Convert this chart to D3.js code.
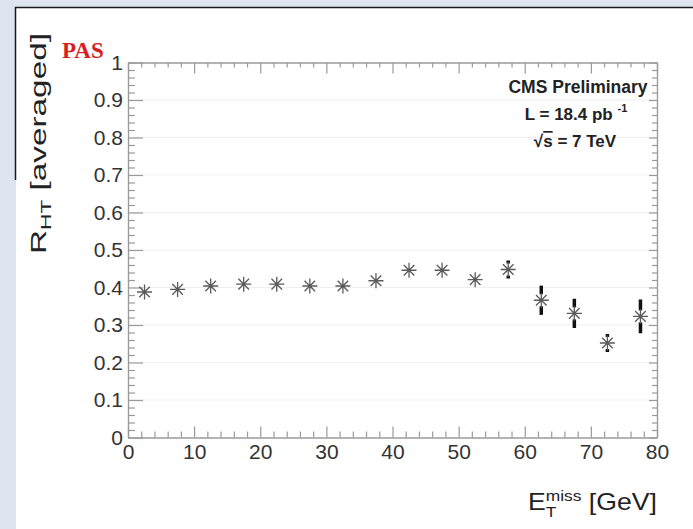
<!DOCTYPE html>
<html>
<head>
<meta charset="utf-8">
<script src="https://cdn.jsdelivr.net/npm/d3@7"></script>
<style>
  html, body { margin: 0; padding: 0; background: #dfe5f0; }
  svg { display: block; }
  .axis path, .axis line { stroke: #9a9a9a; stroke-width: 1.2; }
  .axis text { font-family: "Liberation Sans", Arial, sans-serif; font-size: 21px; fill: #333; }
</style>
</head>
<body>
<div id="chart"></div>
<script>
onload = function () {

  // bin centres of E_T^miss [GeV]
  var binCenters = [2.5, 7.5, 12.5, 17.5, 22.5, 27.5, 32.5, 37.5, 42.5, 47.5, 52.5, 57.5, 62.5, 67.5, 72.5, 77.5];
  // R_HT averaged per bin
  var rValues = [0.388, 0.395, 0.404, 0.409, 0.409, 0.404, 0.404, 0.418, 0.446, 0.446, 0.421, 0.448, 0.366, 0.331, 0.252, 0.323];
  var rErrors = [0.004, 0.004, 0.005, 0.005, 0.006, 0.006, 0.007, 0.008, 0.010, 0.012, 0.014, 0.024, 0.039, 0.039, 0.024, 0.045];

  var xTicks = [0, 10, 20, 30, 40, 50, 60, 70, 80];
  var yTicks = [0, 0.1, 0.2, 0.3, 0.4, 0.5, 0.6, 0.7, 0.8, 0.9, 1];
  var yTickLabels = ["0", "0.1", "0.2", "0.3", "0.4", "0.5", "0.6", "0.7", "0.8", "0.9", "1"];

  var W = 693, H = 529;
  var margin = {top: 62.5, right: 36, bottom: 91.5, left: 128};

  var svg = d3.select("#chart").append("svg")
    .attr("width", W)
    .attr("height", H);

  // white slide panel
  svg.append("rect")
    .attr("x", 16).attr("y", 8)
    .attr("width", W - 16).attr("height", H - 8)
    .attr("fill", "#fff");
  svg.append("path")
    .attr("d", "M15.5,180V7.5H" + W)
    .attr("fill", "none")
    .attr("stroke", "#1a1a1a")
    .attr("stroke-width", 1.5);

  var x = d3.scaleLinear()
    .domain([0, 80])
    .range([margin.left, W - margin.right]);

  var y = d3.scaleLinear()
    .domain([0, 1])
    .range([H - margin.bottom, margin.top]);

  var minorX = d3.range(0, 81, 2).filter(function (d) { return d % 10 != 0; });
  var minorY = d3.range(0, 51).map(function (i) { return i / 50; })
    .filter(function (d, i) { return i % 5 != 0; });

  // faint horizontal grid
  svg.append("g")
    .selectAll("line")
    .data(yTicks.slice(1, -1))
    .enter().append("line")
    .attr("x1", x(0)).attr("x2", x(80))
    .attr("y1", function (d) { return y(d); })
    .attr("y2", function (d) { return y(d); })
    .attr("stroke", "#efefef")
    .attr("stroke-width", 1);

  // axes (ticks pointing inwards, like ROOT)
  svg.append("g")
    .attr("class", "x axis")
    .attr("transform", "translate(0," + y(0) + ")")
    .call(d3.axisBottom(x).tickValues(xTicks).tickSize(-11).tickSizeOuter(0).tickPadding(7));
  svg.append("g")
    .attr("class", "x axis minor")
    .attr("transform", "translate(0," + y(0) + ")")
    .call(d3.axisBottom(x).tickValues(minorX).tickSize(-6).tickSizeOuter(0).tickFormat(""));

  svg.append("g")
    .attr("class", "x axis")
    .attr("transform", "translate(0," + y(1) + ")")
    .call(d3.axisTop(x).tickValues(xTicks).tickSize(-11).tickSizeOuter(0).tickFormat(""));
  svg.append("g")
    .attr("class", "x axis minor")
    .attr("transform", "translate(0," + y(1) + ")")
    .call(d3.axisTop(x).tickValues(minorX).tickSize(-5).tickSizeOuter(0).tickFormat(""));

  svg.append("g")
    .attr("class", "y axis")
    .attr("transform", "translate(" + x(0) + ",0)")
    .call(d3.axisLeft(y).tickValues(yTicks).tickSize(-15).tickSizeOuter(0).tickPadding(5)
      .tickFormat(function (d, i) { return yTickLabels[i]; }));
  svg.append("g")
    .attr("class", "y axis minor")
    .attr("transform", "translate(" + x(0) + ",0)")
    .call(d3.axisLeft(y).tickValues(minorY).tickSize(-7).tickSizeOuter(0).tickFormat(""));

  svg.append("g")
    .attr("class", "y axis")
    .attr("transform", "translate(" + x(80) + ",0)")
    .call(d3.axisRight(y).tickValues(yTicks).tickSize(-8).tickSizeOuter(0).tickFormat(""));
  svg.append("g")
    .attr("class", "y axis minor")
    .attr("transform", "translate(" + x(80) + ",0)")
    .call(d3.axisRight(y).tickValues(minorY).tickSize(-5).tickSizeOuter(0).tickFormat(""));

  var points = binCenters.map(function (c, i) {
    return {x: c, v: rValues[i], e: rErrors[i]};
  });

  // error bars, hidden behind the marker in the middle
  var gap = 6;
  var err = svg.append("g").attr("class", "errors");
  points.forEach(function (p) {
    var cy = y(p.v), top = y(p.v + p.e), bot = y(p.v - p.e);
    if (cy - top > gap) {
      err.append("line")
        .attr("x1", x(p.x)).attr("x2", x(p.x))
        .attr("y1", top).attr("y2", cy - gap);
      err.append("line")
        .attr("x1", x(p.x)).attr("x2", x(p.x))
        .attr("y1", cy + gap).attr("y2", bot);
    }
  });
  err.selectAll("line")
    .attr("stroke", "#111")
    .attr("stroke-width", 3.5);

  // star markers
  var r = 7.5, rd = 5.3;
  var star = "M" + (-r) + ",0H" + r + "M0," + (-r) + "V" + r +
    "M" + (-rd) + "," + (-rd) + "L" + rd + "," + rd +
    "M" + (-rd) + "," + rd + "L" + rd + "," + (-rd);

  svg.append("g")
    .selectAll("path")
    .data(points)
    .enter().append("path")
    .attr("d", star)
    .attr("transform", function (d) { return "translate(" + x(d.x) + "," + y(d.v) + ")"; })
    .attr("fill", "none")
    .attr("stroke", "#5a5a5a")
    .attr("stroke-width", 1.3);

  // axis titles
  var ytitle = svg.append("text")
    .attr("font-family", "Liberation Sans, Arial, sans-serif")
    .attr("font-size", 22)
    .attr("fill", "#222");
  ytitle.append("tspan").text("R");
  ytitle.append("tspan").attr("font-size", 15).attr("dy", 5).text("HT");
  ytitle.append("tspan").attr("dy", -5).text(" [averaged]");
  var yl = ytitle.node().getComputedTextLength();
  ytitle.attr("transform", "translate(46,254) rotate(-90) scale(" + (221 / yl) + ",1)");

  var xtitle = svg.append("text")
    .attr("font-family", "Liberation Sans, Arial, sans-serif")
    .attr("font-size", 23)
    .attr("fill", "#222");
  xtitle.append("tspan").text("E");
  xtitle.append("tspan").attr("font-size", 15).attr("dy", -9).text("miss");
  xtitle.append("tspan").text(" [GeV]").attr("dy", 9);
  var xl = xtitle.node().getComputedTextLength();
  var sx = 129 / xl;
  xtitle.attr("transform", "translate(" + (x(80) - 129) + ",510) scale(" + sx + ",1)");
  // subscript T under the superscript
  var eW = 23 * 0.667;
  svg.append("text")
    .attr("font-family", "Liberation Sans, Arial, sans-serif")
    .attr("font-size", 15)
    .attr("fill", "#222")
    .attr("transform", "translate(" + (x(80) - 129 + eW * sx) + ",517) scale(" + sx + ",1)")
    .text("T");

  // PAS stamp
  svg.append("text")
    .attr("x", 62).attr("y", 58)
    .attr("font-family", "Liberation Serif, Times New Roman, serif")
    .attr("font-weight", "bold")
    .attr("font-size", 23)
    .attr("fill", "#d81e1e")
    .text("PAS");

  // CMS info box
  var info = svg.append("g")
    .attr("font-family", "Liberation Sans, Arial, sans-serif")
    .attr("font-weight", "bold")
    .attr("font-size", 17)
    .attr("fill", "#222")
    .attr("text-anchor", "middle");
  info.append("text").attr("x", 578).attr("y", 93).attr("font-size", 17.5).text("CMS Preliminary");
  var lumi = info.append("text").attr("x", 576).attr("y", 120);
  lumi.append("tspan").text("L = 18.4 pb ");
  lumi.append("tspan").attr("font-size", 11).attr("dy", -8).text("-1");
  var sq = info.append("text").attr("x", 575).attr("y", 147);
  sq.append("tspan").text("√");
  sq.append("tspan").style("text-decoration", "overline").text("s");
  sq.append("tspan").text(" = 7 TeV");
};
</script>
</body>
</html>
